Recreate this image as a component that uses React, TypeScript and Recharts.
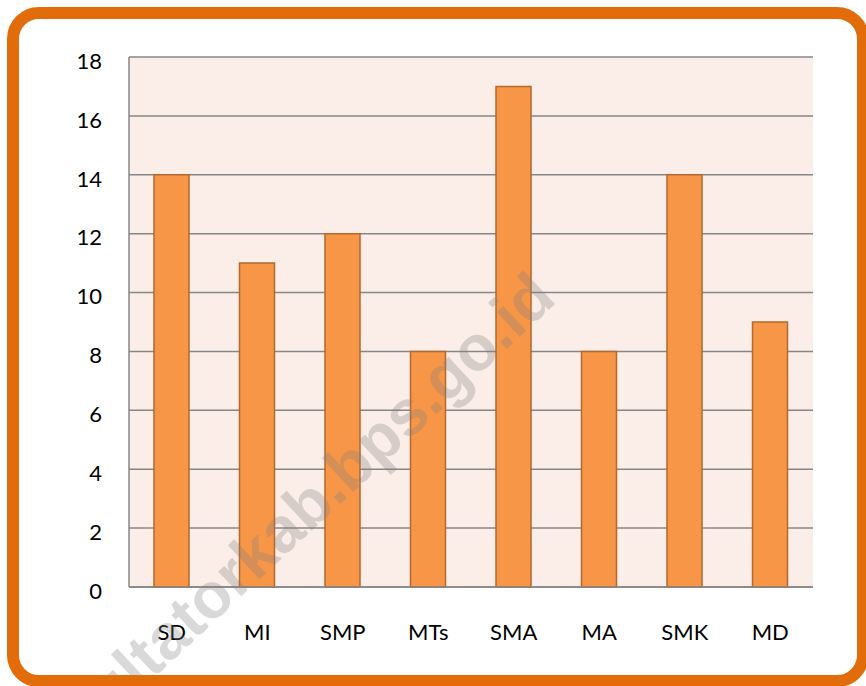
import { BarChart, Bar, XAxis, YAxis, CartesianGrid } from "recharts";

const categories = ["SD", "MI", "SMP", "MTs", "SMA", "MA", "SMK", "MD"];
const counts = [14, 11, 12, 8, 17, 8, 14, 9];
const yTicks = [0, 2, 4, 6, 8, 10, 12, 14, 16, 18];

const data = categories.map((name, i) => ({ name, value: counts[i] }));

const font = "Lato, 'Open Sans', sans-serif";

export default function App() {
  return (
    <div
      style={{
        position: "absolute",
        left: 0,
        top: 0,
        width: 866,
        height: 686,
        overflow: "hidden",
        background: "#fff",
      }}
    >
      <div style={{ position: "absolute", left: 0, top: 0 }}>
        <BarChart
          width={866}
          height={686}
          data={data}
          margin={{ top: 57, right: 53, bottom: 39, left: 0 }}
          barSize={35}
        >
          <CartesianGrid
            vertical={false}
            stroke="#868686"
            strokeWidth={1.5}
            fill="#FBEEE9"
            fillOpacity={1}
          />
          <XAxis
            dataKey="name"
            height={60}
            tickLine={false}
            tickSize={0}
            tickMargin={37}
            axisLine={{ stroke: "#868686", strokeWidth: 1.5 }}
            tick={{ fill: "#000", fontSize: 22, fontFamily: font }}
          />
          <YAxis
            width={129}
            domain={[0, 18]}
            ticks={yTicks}
            interval={0}
            tickLine={false}
            tickSize={0}
            tickMargin={27}
            axisLine={{ stroke: "#868686", strokeWidth: 1.5 }}
            tick={{ fill: "#000", fontSize: 22, fontFamily: font, dy: 4 }}
          />
          <Bar
            dataKey="value"
            fill="#F79646"
            stroke="#B4682F"
            strokeWidth={1.5}
            isAnimationActive={false}
          />
        </BarChart>
      </div>
      <svg
        width={866}
        height={686}
        style={{ position: "absolute", left: 0, top: 0, pointerEvents: "none" }}
      >
        <text
          x={558}
          y={301}
          textAnchor="end"
          transform="rotate(-43 558 301)"
          fontFamily="'Liberation Sans', Arial, sans-serif"
          fontWeight="bold"
          fontSize={64}
          fill="#808080"
          fillOpacity={0.3}
        >
          ultatorkab.bps.go.id
        </text>
      </svg>
      <div
        style={{
          position: "absolute",
          left: 7,
          top: 7,
          width: 862,
          height: 680,
          border: "12px solid #E36C0A",
          borderRadius: 32,
          boxSizing: "border-box",
        }}
      />
    </div>
  );
}
